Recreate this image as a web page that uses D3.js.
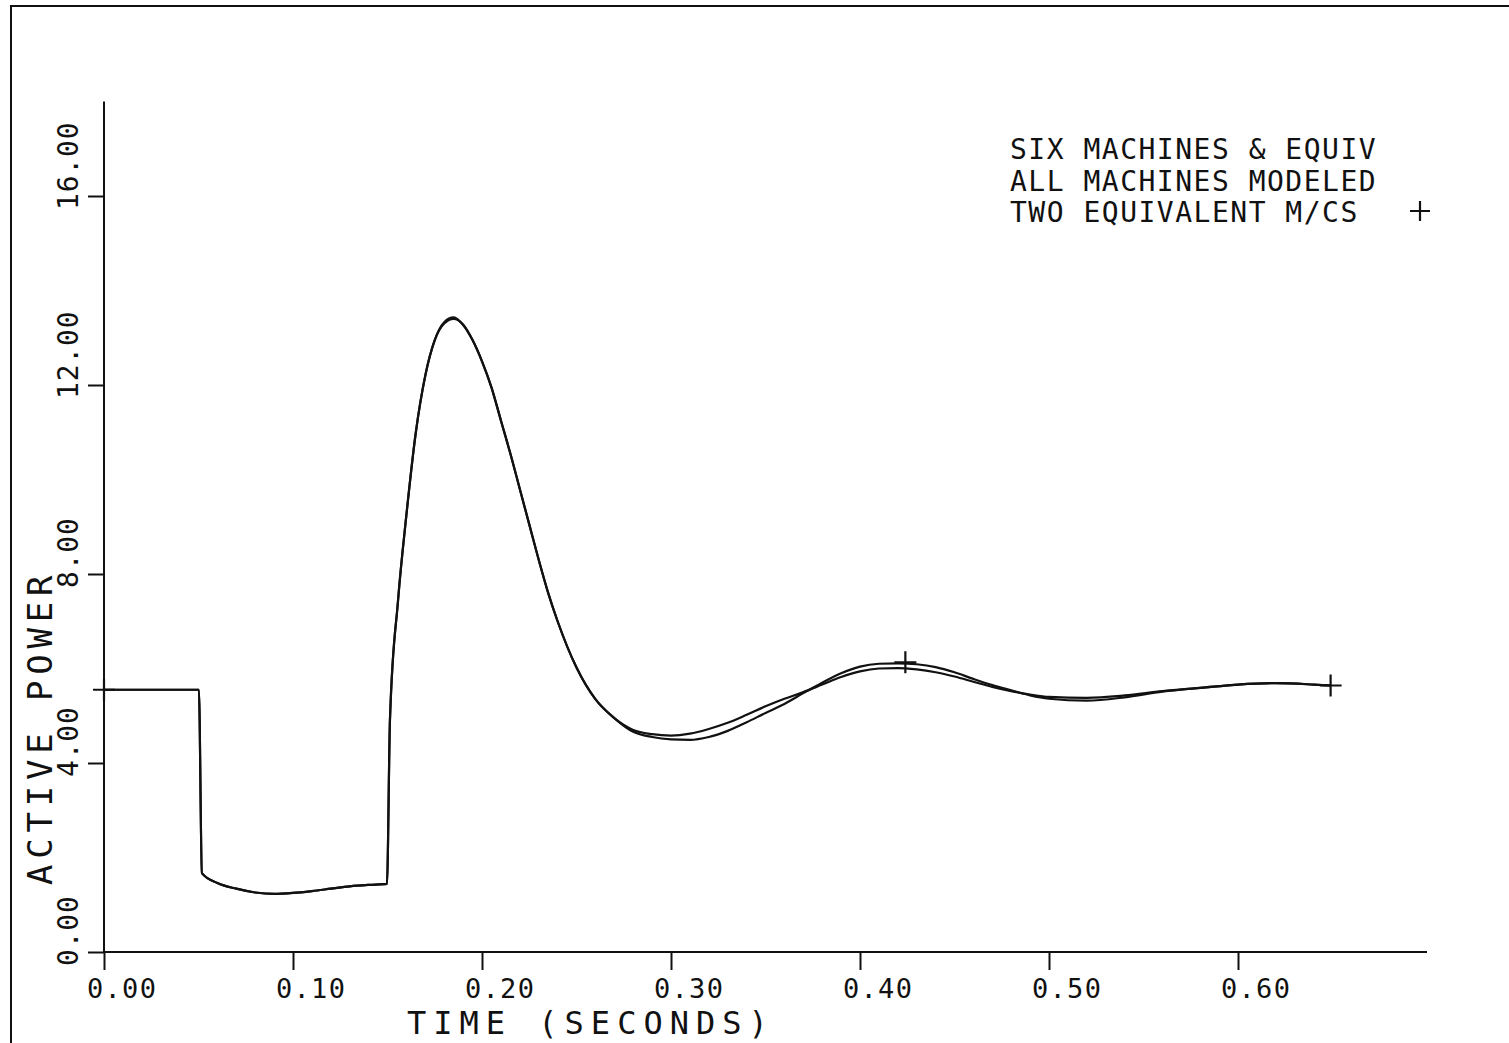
<!DOCTYPE html>
<html>
<head>
<meta charset="utf-8">
<script src="https://cdn.jsdelivr.net/npm/d3@7"></script>
<style>
  html, body { margin: 0; padding: 0; background: #fff; }
  svg { display: block; }
  text { font-family: 'DejaVu Sans Mono', monospace; fill: #111; }
</style>
</head>
<body>
<div id="chart"></div>
<script>
// time (s) shared by both traces
const times = [0, 0.0502, 0.0518, 0.06, 0.07, 0.08, 0.09, 0.10, 0.11, 0.12, 0.13, 0.14, 0.1497,
  0.1513, 0.1556, 0.16, 0.165, 0.17, 0.175, 0.18, 0.185, 0.19, 0.195, 0.20, 0.205, 0.21, 0.215,
  0.22, 0.225, 0.23, 0.235, 0.24, 0.25, 0.26, 0.27, 0.28, 0.29, 0.30, 0.31, 0.32, 0.33, 0.34,
  0.35, 0.36, 0.37, 0.38, 0.39, 0.40, 0.41, 0.42, 0.43, 0.44, 0.45, 0.46, 0.47, 0.48, 0.49,
  0.50, 0.52, 0.54, 0.56, 0.58, 0.60, 0.62, 0.64, 0.649];

// all machines modeled
const allMachines = [5.55, 5.55, 1.67, 1.46, 1.34, 1.26, 1.23, 1.25, 1.29, 1.34, 1.39, 1.42, 1.44,
  4.91, 7.45, 9.25, 11.0, 12.2, 12.95, 13.33, 13.43, 13.27, 12.95, 12.5, 11.95, 11.25, 10.55,
  9.8, 9.05, 8.3, 7.6, 7.0, 6.02, 5.35, 4.95, 4.70, 4.61, 4.58, 4.62, 4.72, 4.85, 5.02,
  5.20, 5.36, 5.50, 5.66, 5.82, 5.94, 6.00, 6.01, 5.98, 5.92, 5.83, 5.72, 5.61, 5.52, 5.45,
  5.40, 5.38, 5.43, 5.52, 5.59, 5.66, 5.69, 5.66, 5.64];

// two equivalent machines
const twoEquiv = [5.55, 5.55, 1.67, 1.46, 1.34, 1.26, 1.23, 1.25, 1.29, 1.34, 1.39, 1.42, 1.44,
  4.91, 7.45, 9.25, 11.0, 12.2, 12.95, 13.30, 13.40, 13.28, 12.95, 12.5, 11.95, 11.25, 10.55,
  9.8, 9.05, 8.3, 7.6, 7.0, 6.02, 5.35, 4.95, 4.66, 4.55, 4.50, 4.49, 4.55, 4.68, 4.86,
  5.06, 5.25, 5.48, 5.70, 5.90, 6.04, 6.10, 6.11, 6.09, 6.03, 5.92, 5.78, 5.65, 5.54, 5.43,
  5.36, 5.32, 5.39, 5.51, 5.59, 5.66, 5.69, 5.66, 5.64];

const markerTimes = [0, 0.424, 0.649];
const markerValues = [5.55, 6.13, 5.64];

const xTicks = [0, 0.1, 0.2, 0.3, 0.4, 0.5, 0.6];
const yTicks = [0, 4, 8, 12, 16];
const legendLines = ['SIX MACHINES & EQUIV', 'ALL MACHINES MODELED', 'TWO EQUIVALENT M/CS'];

const W = 1509, H = 1043;
const svg = d3.select('#chart').append('svg').attr('width', W).attr('height', H);

const x = d3.scaleLinear().domain([0, 0.7]).range([104, 1427]);
const y = d3.scaleLinear().domain([0, 18]).range([952, 101.5]);

// page frame (top + left edge of the scanned sheet)
svg.append('path')
  .attr('d', `M11,${H} L11,6 L${W},6`)
  .attr('fill', 'none').attr('stroke', '#111').attr('stroke-width', 2);

// axes
const xAxis = d3.axisBottom(x).tickValues(xTicks).tickSize(18).tickFormat('');
const yAxis = d3.axisLeft(y).tickValues(yTicks).tickSize(16).tickFormat('');

svg.append('g').attr('transform', `translate(0,${y(0)})`).call(xAxis)
  .call(g => g.select('.domain').attr('d', `M${x(0)},0H${x(0.7)}`))
  .selectAll('path, line').attr('stroke', '#111').attr('stroke-width', 2);

svg.append('g').attr('transform', `translate(${x(0)},0)`).call(yAxis)
  .call(g => g.select('.domain').attr('d', `M0,${y(0)}V${y(18)}`))
  .selectAll('path, line').attr('stroke', '#111').attr('stroke-width', 2);

// tick labels
svg.selectAll('.xlab').data(xTicks).join('text')
  .attr('x', d => x(d) - 17).attr('y', 998)
  .attr('font-size', 27).attr('letter-spacing', 1.3)
  .text(d => d.toFixed(2));

svg.selectAll('.ylab').data(yTicks).join('text')
  .attr('transform', d => `translate(78,${y(d) + 14}) rotate(-90)`)
  .attr('font-size', 28).attr('letter-spacing', 0.8)
  .text(d => d.toFixed(2));

// axis titles
svg.append('text')
  .attr('x', 407).attr('y', 1034)
  .attr('font-size', 32).attr('letter-spacing', 7)
  .text('TIME (SECONDS)');

svg.append('text')
  .attr('transform', 'translate(52,885) rotate(-90)')
  .attr('font-size', 34).attr('letter-spacing', 5.8)
  .text('ACTIVE POWER');

// traces
const line = d3.line()
  .x(d => x(d[0])).y(d => y(d[1]))
  .curve(d3.curveMonotoneX);

[allMachines, twoEquiv].forEach(vals => {
  svg.append('path')
    .datum(times.map((t, i) => [t, vals[i]]))
    .attr('d', line)
    .attr('fill', 'none')
    .attr('stroke', '#111')
    .attr('stroke-width', 2.2)
    .attr('stroke-linejoin', 'round');
});

// plus markers
const plusPath = (cx, cy, r) => `M${cx - r},${cy}H${cx + r}M${cx},${cy - r}V${cy + r}`;

svg.selectAll('.mk').data(markerTimes).join('path')
  .attr('d', (d, i) => plusPath(x(d), y(markerValues[i]), 11))
  .attr('stroke', '#111').attr('stroke-width', 2.2).attr('fill', 'none');

// legend
svg.selectAll('.leg').data(legendLines).join('text')
  .attr('x', 1010).attr('y', (d, i) => 159 + i * 31.5)
  .attr('font-size', 28).attr('letter-spacing', 1.5)
  .text(d => d);

svg.append('path')
  .attr('d', plusPath(1420, 211, 10))
  .attr('stroke', '#111').attr('stroke-width', 2.2).attr('fill', 'none');
</script>
</body>
</html>
